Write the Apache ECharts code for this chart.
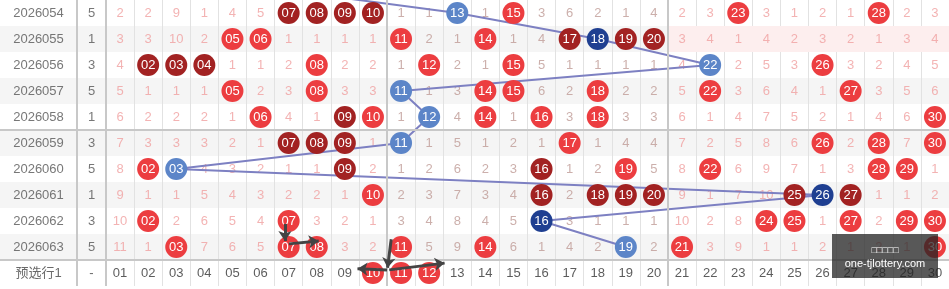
<!DOCTYPE html>
<html>
<head>
<meta charset="utf-8">
<title>trend</title>
<script src="https://cdn.jsdelivr.net/npm/echarts@6/dist/echarts.min.js"></script>
<style>
html, body { margin: 0; padding: 0; background: #fff; }
#chart { width: 949px; height: 289px; }
</style>
</head>
<body>
<div id="chart"></div>
<script>
// periods and the small value column next to them
const periods = ['2026054', '2026055', '2026056', '2026057', '2026058', '2026059', '2026060', '2026061', '2026062', '2026063']
const sums = [5, 1, 3, 5, 1, 3, 5, 1, 3, 5]
const pickLabel = '预选行1'
const numbers = Array.from({ length: 30 }, (_, i) => String(i + 1).padStart(2, '0'))

// omission values, null where the number was drawn
const _ = null
const omit = [
  [2, 2, 9, 1, 4, 5, _, _, _, _, 1, 1, _, 1, _, 3, 6, 2, 1, 4, 2, 3, _, 3, 1, 2, 1, _, 2, 3],
  [3, 3, 10, 2, _, _, 1, 1, 1, 1, _, 2, 1, _, 1, 4, _, _, _, _, 3, 4, 1, 4, 2, 3, 2, 1, 3, 4],
  [4, _, _, _, 1, 1, 2, _, 2, 2, 1, _, 2, 1, _, 5, 1, 1, 1, 1, 4, _, 2, 5, 3, _, 3, 2, 4, 5],
  [5, 1, 1, 1, _, 2, 3, _, 3, 3, _, 1, 3, _, _, 6, 2, _, 2, 2, 5, _, 3, 6, 4, 1, _, 3, 5, 6],
  [6, 2, 2, 2, 1, _, 4, 1, _, _, 1, _, 4, _, 1, _, 3, _, 3, 3, 6, 1, 4, 7, 5, 2, 1, 4, 6, _],
  [7, 3, 3, 3, 2, 1, _, _, _, 1, _, 1, 5, 1, 2, 1, _, 1, 4, 4, 7, 2, 5, 8, 6, _, 2, _, 7, _],
  [8, _, _, 4, 3, 2, 1, 1, _, 2, 1, 2, 6, 2, 3, _, 1, 2, _, 5, 8, _, 6, 9, 7, 1, 3, _, _, 1],
  [9, 1, 1, 5, 4, 3, 2, 2, 1, _, 2, 3, 7, 3, 4, _, 2, _, _, _, 9, 1, 7, 10, _, _, _, 1, 1, 2],
  [10, _, 2, 6, 5, 4, _, 3, 2, 1, 3, 4, 8, 4, 5, _, 3, 1, 1, 1, 10, 2, 8, _, _, 1, _, 2, _, _],
  [11, 1, _, 7, 6, 5, _, _, 3, 2, _, 5, 9, _, 6, 1, 4, 2, _, 2, _, 3, 9, 1, 1, 2, 1, 2, 1, _]
]

// drawn numbers by colour kind
const redBalls = [
  [15, 23, 28], [5, 6, 11, 14], [8, 12, 15, 26], [5, 8, 14, 15, 18, 22, 27], [6, 10, 14, 16, 18, 30],
  [17, 26, 28, 30], [2, 19, 22, 28, 29], [10], [2, 7, 24, 25, 27, 29, 30], [3, 7, 8, 11, 14, 21, 30]
]
const darkBalls = [
  [7, 8, 9, 10], [17, 19, 20], [2, 3, 4], [], [9],
  [7, 8, 9], [9, 16], [16, 18, 19, 20, 25, 27], [], []
]
const blueBalls = [13, _, 22, 11, 12, 11, 3, _, _, 19]
const navyBalls = [_, 18, _, _, _, _, _, 26, 16, _]
const prevLineBall = 6
const pickBalls = [10, 11, 12]

const C = {
  red: '#ec3d40',
  dark: '#a22222',
  blue: '#5c85c8',
  navy: '#1f3f91',
  line: '#7d80c2',
  missA: '#f0a0a0',
  missB: '#bf9b96',
  text: '#555',
  sep: '#c8c8c8',
  thin: '#e2e2e2'
}
const FONT = 'Arial, "Liberation Sans", "Noto Sans CJK SC", sans-serif'
const ROWS = periods.length + 1

const myChart = echarts.init(document.getElementById('chart'))

const yAxisFor = (gi) => ({
  type: 'value',
  gridIndex: gi,
  min: 0,
  max: ROWS,
  interval: 1,
  inverse: true,
  axisLine: { show: false },
  axisTick: { show: false },
  axisLabel: { show: false },
  splitLine: { show: false },
  splitArea: { show: true, areaStyle: { color: ['#ffffff', '#f5f5f5'] } }
})
const xAxisFor = (gi, max, lines) => ({
  type: 'value',
  gridIndex: gi,
  min: 0,
  max: max,
  interval: 1,
  axisLine: { show: false },
  axisTick: { show: false },
  axisLabel: { show: false },
  splitLine: { show: lines, lineStyle: { color: C.thin, width: 1 } }
})
const sepLines = (extra) => ({
  silent: true,
  symbol: 'none',
  animation: false,
  label: { show: false },
  lineStyle: { color: C.sep, width: 2, type: 'solid' },
  data: [{ yAxis: 5 }, { yAxis: 10 }].concat(extra)
})
const textPoint = (x, y, text, color, size) => ({
  value: [x, y],
  name: text,
  label: { color: color, fontSize: size }
})
const textSeries = (gi, data, extraLines) => ({
  type: 'scatter',
  xAxisIndex: gi,
  yAxisIndex: gi,
  symbolSize: 1,
  itemStyle: { color: 'rgba(0,0,0,0)' },
  label: {
    show: true,
    position: 'inside',
    fontFamily: FONT,
    formatter: (p) => p.name
  },
  z: 2,
  data: data,
  markLine: extraLines ? sepLines(extraLines) : undefined
})

// date column
const dateData = periods.map((p, i) => textPoint(0.5, i + 0.5, p, C.text, 13))
dateData.push(textPoint(0.5, periods.length + 0.5, pickLabel, '#444', 13))

// value column
const sumData = sums.map((v, i) => textPoint(0.5, i + 0.5, String(v), C.text, 13))
sumData.push(textPoint(0.5, periods.length + 0.5, '-', '#444', 13))

// omission numbers
const missData = []
omit.forEach((row, r) => {
  row.forEach((v, c) => {
    if (v === null) return
    const col = c >= 10 && c < 20 ? C.missB : C.missA
    missData.push(textPoint(c + 0.5, r + 0.5, String(v), col, 13))
  })
})
// header-like last row
numbers.forEach((n, c) => {
  if (pickBalls.includes(c + 1)) return
  missData.push(textPoint(c + 0.5, periods.length + 0.5, n, '#333', 13))
})

// balls
const ballData = []
const addBall = (n, r, color) => {
  ballData.push({
    value: [n - 0.5, r + 0.5],
    name: numbers[n - 1],
    itemStyle: { color: color, opacity: 1 }
  })
}
redBalls.forEach((row, r) => row.forEach((n) => addBall(n, r, C.red)))
darkBalls.forEach((row, r) => row.forEach((n) => addBall(n, r, C.dark)))
blueBalls.forEach((n, r) => { if (n !== null) addBall(n, r, C.blue) })
navyBalls.forEach((n, r) => { if (n !== null) addBall(n, r, C.navy) })
pickBalls.forEach((n) => addBall(n, periods.length, C.red))

// trend line through the blue balls
const linePath = [[prevLineBall - 0.5, -0.5]]
blueBalls.forEach((n, r) => {
  const v = n !== null ? n : navyBalls[r]
  linePath.push([v - 0.5, r + 0.5])
})

// arrow annotations
const arrows = [
  [[6.37, 8.62], [6.37, 9.27]],
  [[6.51, 9.38], [7.57, 9.27]],
  [[10.15, 9.2], [10.02, 10.3]],
  [[10.0, 10.38], [8.95, 10.34]],
  [[10.08, 10.38], [12.05, 10.12]]
]

const option = {
  animation: false,
  backgroundColor: '#fff',
  grid: [
    { left: 0, top: 0, width: 77, height: ROWS * 26 },
    { left: 77, top: 0, width: 29, height: ROWS * 26 },
    { left: 106, top: 0, width: 848, height: ROWS * 26 }
  ],
  xAxis: [xAxisFor(0, 1, false), xAxisFor(1, 1, false), xAxisFor(2, 30, true)],
  yAxis: [yAxisFor(0), yAxisFor(1), yAxisFor(2)],
  series: [
    textSeries(0, dateData, [{ xAxis: 1 }]),
    textSeries(1, sumData, [{ xAxis: 1 }]),
    Object.assign(textSeries(2, missData, [{ xAxis: 10 }, { xAxis: 20 }]), {
      markArea: {
        silent: true,
        itemStyle: { color: '#fdeeee' },
        data: [[{ xAxis: 20, yAxis: 1 }, { xAxis: 30, yAxis: 2 }]]
      }
    }),
    {
      type: 'line',
      xAxisIndex: 2,
      yAxisIndex: 2,
      symbol: 'none',
      clip: true,
      lineStyle: { color: C.line, width: 2 },
      z: 3,
      data: linePath
    },
    {
      type: 'scatter',
      xAxisIndex: 2,
      yAxisIndex: 2,
      symbol: 'circle',
      symbolSize: 22,
      z: 4,
      itemStyle: { opacity: 1 },
      label: {
        show: true,
        position: 'inside',
        color: '#fff',
        fontSize: 13,
        fontFamily: FONT,
        formatter: (p) => p.name
      },
      data: ballData
    },
    {
      type: 'lines',
      coordinateSystem: 'cartesian2d',
      xAxisIndex: 2,
      yAxisIndex: 2,
      symbol: ['none', 'arrow'],
      symbolSize: 10,
      z: 5,
      lineStyle: { color: '#444', width: 3, opacity: 1 },
      data: arrows.map((a) => ({ coords: a }))
    }
  ],
  graphic: {
    elements: [
      {
        type: 'rect',
        x: 832,
        y: 234,
        z: 100,
        shape: { x: 0, y: 0, width: 106, height: 44 },
        style: { fill: 'rgba(35,35,35,0.75)' }
      },
      {
        type: 'text',
        x: 885,
        y: 251,
        z: 101,
        style: { text: '□□□□□', fill: '#fff', font: '9px ' + FONT, align: 'center', verticalAlign: 'middle' }
      },
      {
        type: 'text',
        x: 885,
        y: 264,
        z: 101,
        style: { text: 'one-tjlottery.com', fill: '#fff', font: '11px ' + FONT, align: 'center', verticalAlign: 'middle' }
      }
    ]
  }
}
myChart.setOption(option)
window.addEventListener('resize', () => {
  myChart.resize()
})
</script>
</body>
</html>
